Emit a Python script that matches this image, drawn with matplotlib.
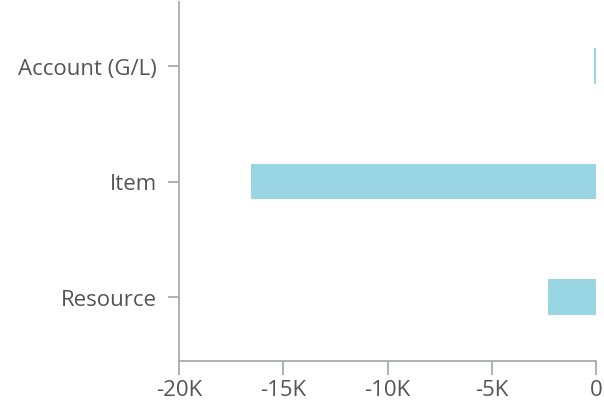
import matplotlib.pyplot as plt
from matplotlib.ticker import FuncFormatter

categories = ['Resource', 'Item', 'Account (G/L)']
values = [-2320, -16560, -80]
ticks = [-20000, -15000, -10000, -5000, 0]

plt.rcParams['font.family'] = ['Open Sans', 'DejaVu Sans']

fig = plt.figure(figsize=(6.04, 4.06), dpi=100)
ax = fig.add_axes([179/604, 1-362/406, 417/604, 359/406])

ax.barh(range(len(categories)), values, height=0.31, color='#99d5e2')

ax.set_xlim(-20000, 0)
ax.set_ylim(-0.554, 2.554)
ax.set_xticks(ticks)
ax.xaxis.set_major_formatter(FuncFormatter(lambda v, p: '0' if v == 0 else '%dK' % (v / 1000)))
ax.set_yticks(range(len(categories)))
ax.set_yticklabels(categories)

for s in ['top', 'right']:
    ax.spines[s].set_visible(False)
for s in ['left', 'bottom']:
    ax.spines[s].set_color('#a6abb0')
    ax.spines[s].set_linewidth(1.3)

ax.tick_params(axis='x', length=10, width=1.3, color='#a6abb0', labelsize=16, labelcolor='#555555', pad=3)
ax.tick_params(axis='y', length=8, width=1.3, color='#a6abb0', labelsize=16, labelcolor='#555555', pad=8)

fig.savefig('out.png', dpi=100)
